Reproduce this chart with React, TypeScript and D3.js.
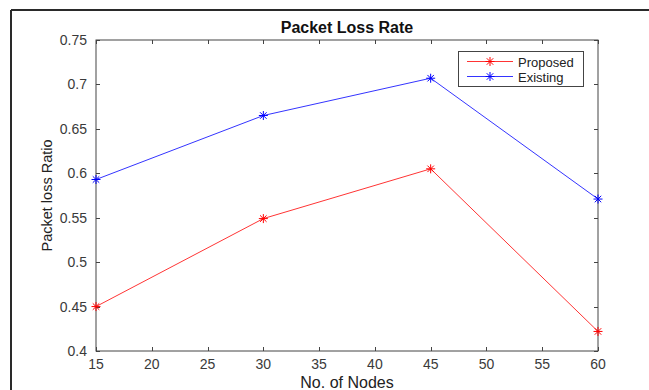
import { useEffect, useRef } from "react";
import * as d3 from "d3";

const NODES = [15, 30, 45, 60];
const PROPOSED = [0.45, 0.549, 0.605, 0.422];
const EXISTING = [0.593, 0.665, 0.707, 0.571];
const X_TICKS = [15, 20, 25, 30, 35, 40, 45, 50, 55, 60];
const Y_TICKS = [0.4, 0.45, 0.5, 0.55, 0.6, 0.65, 0.7, 0.75];

const SERIES = [
  { name: "Proposed", values: PROPOSED, color: "#ff0000" },
  { name: "Existing", values: EXISTING, color: "#0000ff" },
];

const W = 649;
const H = 390;

export default function App() {
  const svgRef = useRef<SVGSVGElement>(null);

  useEffect(() => {
    if (!svgRef.current) return;
    const svg = d3.select(svgRef.current);
    svg.selectAll("*").remove();

    const margin = { top: 40, right: 51, bottom: 39, left: 96 };
    const x = d3.scaleLinear().domain([15, 60]).range([margin.left, W - margin.right]);
    const y = d3.scaleLinear().domain([0.4, 0.75]).range([H - margin.bottom, margin.top]);
    const font = "'Liberation Sans', Arial, sans-serif";
    const axisColor = "#444";

    // figure frame (left + top only visible)
    svg.append("line").attr("x1", 11).attr("x2", 11).attr("y1", 10).attr("y2", H)
      .attr("stroke", "#2a2a2a").attr("stroke-width", 2);
    svg.append("line").attr("x1", 11).attr("x2", W).attr("y1", 10).attr("y2", 10)
      .attr("stroke", "#2a2a2a").attr("stroke-width", 2);

    const x0 = x.range()[0], x1 = x.range()[1];
    const y0 = y.range()[0], y1 = y.range()[1];

    // axes box
    svg.append("rect")
      .attr("x", x0).attr("y", y1).attr("width", x1 - x0).attr("height", y0 - y1)
      .attr("fill", "none").attr("stroke", axisColor).attr("stroke-width", 1);

    const tl = 4;
    // x ticks bottom and top (inward)
    X_TICKS.forEach((t) => {
      const px = Math.round(x(t)) + 0.5;
      svg.append("line").attr("x1", px).attr("x2", px).attr("y1", y0).attr("y2", y0 - tl).attr("stroke", axisColor);
      svg.append("line").attr("x1", px).attr("x2", px).attr("y1", y1).attr("y2", y1 + tl).attr("stroke", axisColor);
      svg.append("text")
        .attr("x", x(t)).attr("y", y0 + 18)
        .attr("text-anchor", "middle")
        .attr("font-family", font).attr("font-size", 14).attr("fill", "#3a3a3a")
        .text(String(t));
    });

    // y ticks left and right (inward)
    Y_TICKS.forEach((t) => {
      const py = Math.round(y(t)) + 0.5;
      svg.append("line").attr("x1", x0).attr("x2", x0 + tl).attr("y1", py).attr("y2", py).attr("stroke", axisColor);
      svg.append("line").attr("x1", x1).attr("x2", x1 - tl).attr("y1", py).attr("y2", py).attr("stroke", axisColor);
      svg.append("text")
        .attr("x", x0 - 9).attr("y", y(t) + 5)
        .attr("text-anchor", "end")
        .attr("font-family", font).attr("font-size", 14).attr("fill", "#3a3a3a")
        .text(String(+t.toFixed(2)));
    });

    // series
    const line = d3.line<number>()
      .x((_, i) => x(NODES[i]))
      .y((d) => y(d));

    const star = (g: d3.Selection<SVGGElement, unknown, null, undefined>, cx: number, cy: number, color: string) => {
      const r = 4.5;
      const d = r * 0.72;
      const p = `M${cx - r},${cy}H${cx + r}M${cx},${cy - r}V${cy + r}` +
        `M${cx - d},${cy - d}L${cx + d},${cy + d}M${cx - d},${cy + d}L${cx + d},${cy - d}`;
      g.append("path").attr("d", p).attr("stroke", color).attr("stroke-width", 1).attr("fill", "none");
    };

    SERIES.forEach((s) => {
      svg.append("path")
        .datum(s.values)
        .attr("fill", "none")
        .attr("stroke", s.color)
        .attr("stroke-width", 0.8)
        .attr("d", line);
      const g = svg.append("g");
      s.values.forEach((v, i) => star(g, x(NODES[i]), y(v), s.color));
    });

    // title
    svg.append("text")
      .attr("x", (x0 + x1) / 2).attr("y", 33)
      .attr("text-anchor", "middle")
      .attr("font-family", font).attr("font-size", 16).attr("font-weight", "bold").attr("fill", "#111")
      .text("Packet Loss Rate");

    // axis labels
    svg.append("text")
      .attr("x", (x0 + x1) / 2).attr("y", 388)
      .attr("text-anchor", "middle")
      .attr("font-family", font).attr("font-size", 16).attr("fill", "#222")
      .text("No. of Nodes");

    svg.append("text")
      .attr("transform", `translate(52,${(y0 + y1) / 2}) rotate(-90)`)
      .attr("text-anchor", "middle")
      .attr("font-family", font).attr("font-size", 14.5).attr("fill", "#222")
      .text("Packet loss Ratio");

    // legend
    const lg = svg.append("g");
    lg.append("rect")
      .attr("x", 458.5).attr("y", 51.5).attr("width", 125).attr("height", 35)
      .attr("fill", "#fff").attr("stroke", axisColor);
    SERIES.forEach((s, i) => {
      const ly = 61.5 + i * 15;
      lg.append("line").attr("x1", 467).attr("x2", 513).attr("y1", ly).attr("y2", ly)
        .attr("stroke", s.color).attr("stroke-width", 0.8);
      star(lg, 490, ly, s.color);
      lg.append("text")
        .attr("x", 518).attr("y", ly + 5)
        .attr("font-family", font).attr("font-size", 13).attr("fill", "#222")
        .text(s.name);
    });
  }, []);

  return (
    <svg
      ref={svgRef}
      width={W}
      height={H}
      style={{ position: "absolute", left: 0, top: 0, background: "#fff" }}
    />
  );
}
